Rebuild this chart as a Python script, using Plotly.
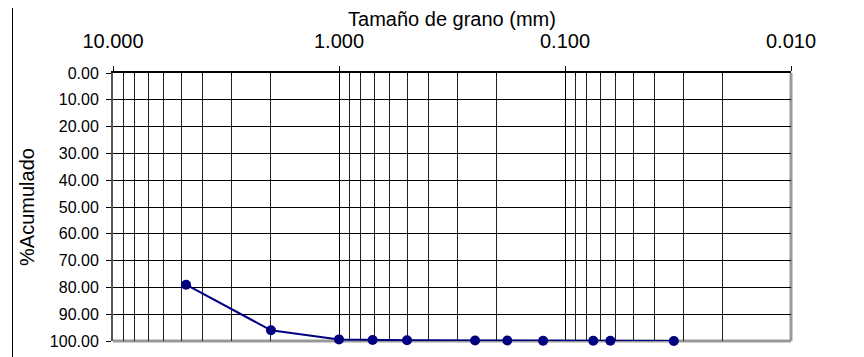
import plotly.graph_objects as go

# Data
grain_size_mm = [4.75, 2.00, 1.00, 0.71, 0.50, 0.25, 0.18, 0.125, 0.075, 0.063, 0.033]
pct_acumulado = [79.0, 96.0, 99.4, 99.6, 99.7, 99.8, 99.8, 99.9, 99.9, 99.9, 100.0]

x_tickvals = [10, 1, 0.1, 0.01]
x_ticktext = ["10.000", "1.000", "0.100", "0.010"]
minor_digits = [2, 3, 4, 5, 6, 7, 8, 9]
decades = [1, 0.1, 0.01]
x_minor_vals = [d * m for m in decades for d in minor_digits]

y_tickvals = list(range(0, 101, 10))
y_ticktext = [f"{v:.2f}" for v in y_tickvals]

# page body has an 8px margin; figure placed to fit the 864x357 window
OFF = 8
W, H = 864 - OFF, 357 - OFF
ml, mr, mt, mb = 113 - OFF, 73, 73 - OFF, 16
pw, ph = W - ml - mr, H - mt - mb

fig = go.Figure()
fig.add_trace(go.Scatter(
    x=grain_size_mm, y=pct_acumulado, mode="lines+markers",
    line=dict(color="#000080", width=2),
    marker=dict(color="#000080", size=10),
    cliponaxis=False, showlegend=False,
))

font = "Liberation Sans, Arial, sans-serif"
fig.update_layout(
    width=W, height=H,
    margin=dict(l=ml, r=mr, t=mt, b=mb, pad=0, autoexpand=False),
    paper_bgcolor="white", plot_bgcolor="white",
    font=dict(family=font, color="black", size=16),
    xaxis=dict(
        type="log", range=[1, -2], side="top",
        tickvals=x_tickvals, ticktext=x_ticktext,
        ticks="outside", ticklen=5, tickcolor="black", tickwidth=1,
        tickfont=dict(size=20), ticklabelstandoff=10,
        showgrid=True, gridcolor="black", gridwidth=1,
        showline=True, linecolor="black", linewidth=1.5,
        minor=dict(tickvals=x_minor_vals, ticks="inside", ticklen=3,
                   tickcolor="black", showgrid=True, gridcolor="#222222", gridwidth=1),
        title=dict(text="Tamaño de grano (mm)", font=dict(size=20), standoff=0),
        zeroline=False, automargin=False,
    ),
    yaxis=dict(
        range=[100, 0], tickvals=y_tickvals, ticktext=y_ticktext,
        ticks="outside", ticklen=5, tickcolor="black",
        tickfont=dict(size=16), ticklabelstandoff=4,
        showgrid=True, gridcolor="black", gridwidth=1,
        showline=True, linecolor="#555555", linewidth=2,
        title=dict(text="%Acumulado", font=dict(size=20), standoff=10),
        zeroline=False, automargin=False,
    ),
    shapes=[
        dict(type="line", xref="paper", yref="paper", x0=1, x1=1, y0=0, y1=1,
             line=dict(color="#999999", width=3), layer="between"),
        dict(type="line", xref="paper", yref="paper", x0=0, x1=1, y0=0, y1=0,
             line=dict(color="#999999", width=3), layer="between"),
        dict(type="rect", xref="paper", yref="paper",
             x0=(12.5 - OFF - ml) / pw, x1=(W + 5 - ml) / pw,
             y0=-(mb + 5) / ph, y1=(H - mb - (5.5 - OFF)) / ph,
             line=dict(color="black", width=1), layer="below"),
    ],
)

fig.write_html("out.html")
